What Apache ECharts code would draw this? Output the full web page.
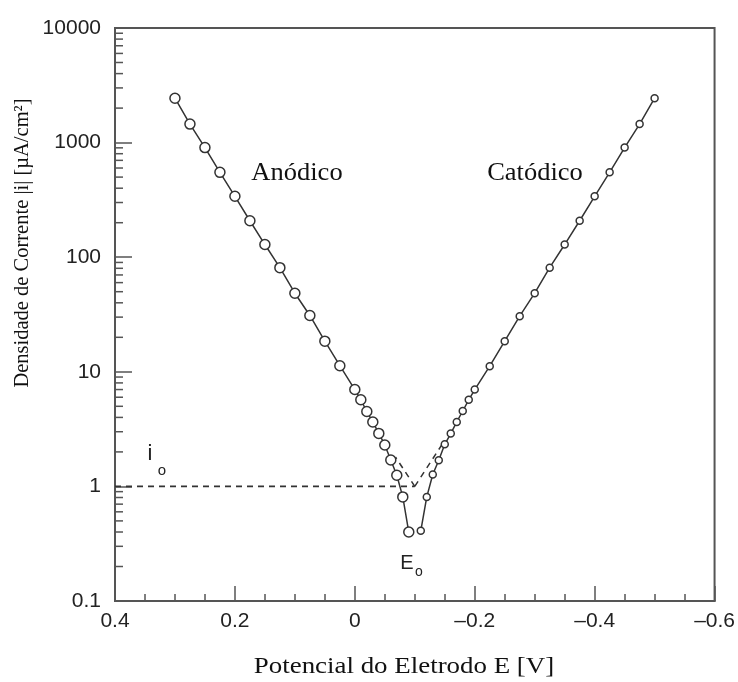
<!DOCTYPE html>
<html>
<head>
<meta charset="utf-8">
<script src="https://cdn.jsdelivr.net/npm/echarts@6/dist/echarts.min.js"></script>
<style>
  html, body { margin: 0; padding: 0; background: #fff; }
  #cn { width: 738px; height: 682px; }
</style>
</head>
<body>
<div id="cn"></div>
<script>
'use strict';

// ramo anódico (círculos grandes)
const potAnodic = [0.3, 0.275, 0.25, 0.225, 0.2, 0.175, 0.15, 0.125, 0.1, 0.075, 0.05, 0.025, 0,
    -0.01, -0.02, -0.03, -0.04, -0.05, -0.06, -0.07, -0.08, -0.09];
const curAnodic = [2440, 1450, 905, 550, 340, 208, 129, 81, 48.5, 31, 18.5, 11.3, 7.0,
    5.7, 4.5, 3.65, 2.9, 2.3, 1.7, 1.25, 0.81, 0.40];

// ramo catódico (círculos pequenos)
const potCathodic = [-0.11, -0.12, -0.13, -0.14, -0.15, -0.16, -0.17, -0.18, -0.19, -0.2,
    -0.225, -0.25, -0.275, -0.3, -0.325, -0.35, -0.375, -0.4, -0.425, -0.45, -0.475, -0.5];
const curCathodic = [0.41, 0.81, 1.27, 1.69, 2.33, 2.89, 3.65, 4.55, 5.7, 7.0,
    11.2, 18.5, 30.6, 48.5, 81, 129, 208, 340, 550, 905, 1450, 2440];

// linhas tracejadas: i0 e extrapolações de Tafel
const potIo = [0.4, -0.1];
const curIo = [1, 1];
const potTafelA = [-0.1, -0.068];
const curTafelA = [1, 1.8];
const potTafelC = [-0.1, -0.145];
const curTafelC = [1, 2.3];

// marcas menores do eixo log
const yMinorTicks = [0.2, 0.3, 0.4, 0.5, 0.6, 0.7, 0.8, 0.9,
    2, 3, 4, 5, 6, 7, 8, 9,
    20, 30, 40, 50, 60, 70, 80, 90,
    200, 300, 400, 500, 600, 700, 800, 900,
    2000, 3000, 4000, 5000, 6000, 7000, 8000, 9000];

const xMin = -0.6;
const xMax = 0.4;

const lineCol = '#333';
const axisCol = '#555';
const sans = 'Liberation Sans, Arial, sans-serif';
const serif = 'Liberation Serif, Times New Roman, serif';

const zip = (a, b) => a.map((v, i) => [v, b[i]]);

const chart = echarts.init(document.getElementById('cn'));

const option = {
    animation: false,
    grid: {
        left: 115,
        top: 28,
        right: 22,
        bottom: 81,
        show: true,
        borderColor: axisCol,
        borderWidth: 2
    },
    xAxis: {
        type: 'value',
        inverse: true,
        min: xMin,
        max: xMax,
        interval: 0.2,
        axisLine: { onZero: false, lineStyle: { color: axisCol, width: 2 } },
        axisTick: { inside: true, length: 15, lineStyle: { color: axisCol, width: 1.5 } },
        minorTick: { show: true, splitNumber: 4, length: 7, lineStyle: { color: axisCol, width: 1.5 } },
        splitLine: { show: false },
        axisLabel: {
            margin: 10,
            fontFamily: sans,
            fontSize: 21,
            color: '#222',
            formatter: v => {
                const r = Number(v.toFixed(2));
                return r < 0 ? '\u2013' + Math.abs(r) : String(r);
            }
        }
    },
    yAxis: {
        type: 'log',
        logBase: 10,
        min: 0.1,
        max: 10000,
        axisLine: { onZero: false, lineStyle: { color: axisCol, width: 2 } },
        axisTick: { inside: true, length: 17, lineStyle: { color: axisCol, width: 1.5 } },
        splitLine: { show: false },
        axisLabel: {
            margin: 14,
            fontFamily: sans,
            fontSize: 21,
            color: '#222',
            formatter: v => String(Number(v.toPrecision(3)))
        }
    },
    graphic: [
        {
            type: 'text', x: 297, y: 173,
            style: { text: 'Anódico', font: '25px ' + serif, fill: '#111', align: 'center', verticalAlign: 'middle' },
            scaleX: 1.06
        },
        {
            type: 'text', x: 535, y: 173,
            style: { text: 'Catódico', font: '25px ' + serif, fill: '#111', align: 'center', verticalAlign: 'middle' },
            scaleX: 1.06
        },
        {
            type: 'text', x: 150, y: 454,
            style: { text: 'i', font: '22px ' + sans, fill: '#222', align: 'center', verticalAlign: 'middle' }
        },
        {
            type: 'text', x: 162, y: 471,
            style: { text: 'o', font: '15px ' + sans, fill: '#222', align: 'center', verticalAlign: 'middle' }
        },
        {
            type: 'text', x: 407, y: 563,
            style: { text: 'E', font: '20px ' + sans, fill: '#222', align: 'center', verticalAlign: 'middle' }
        },
        {
            type: 'text', x: 419, y: 572,
            style: { text: 'o', font: '14px ' + sans, fill: '#222', align: 'center', verticalAlign: 'middle' }
        },
        {
            type: 'text', x: 404, y: 667,
            style: { text: 'Potencial do Eletrodo E [V]', font: '23px ' + serif, fill: '#111', align: 'center', verticalAlign: 'middle' },
            scaleX: 1.17
        },
        {
            type: 'text', x: 23, y: 243, rotation: Math.PI / 2,
            style: { text: 'Densidade de Corrente |i| [µA/cm²]', font: '20.5px ' + serif, fill: '#111', align: 'center', verticalAlign: 'middle' }
        }
    ],
    series: [
        {
            name: 'Anódico',
            type: 'line',
            data: zip(potAnodic, curAnodic),
            symbol: 'circle',
            symbolSize: 10,
            itemStyle: { color: '#fff', borderColor: lineCol, borderWidth: 1.5 },
            lineStyle: { color: lineCol, width: 1.5 },
            z: 3
        },
        {
            name: 'Catódico',
            type: 'line',
            data: zip(potCathodic, curCathodic),
            symbol: 'circle',
            symbolSize: 7,
            itemStyle: { color: '#fff', borderColor: lineCol, borderWidth: 1.5 },
            lineStyle: { color: lineCol, width: 1.5 },
            z: 3
        },
        {
            name: 'io',
            type: 'line',
            data: zip(potIo, curIo),
            showSymbol: false,
            lineStyle: { color: lineCol, width: 1.6, type: [6, 5] },
            z: 2
        },
        {
            name: 'TafelA',
            type: 'line',
            data: zip(potTafelA, curTafelA),
            showSymbol: false,
            lineStyle: { color: lineCol, width: 1.5, type: [6, 5] },
            z: 2
        },
        {
            name: 'TafelC',
            type: 'line',
            data: zip(potTafelC, curTafelC),
            showSymbol: false,
            lineStyle: { color: lineCol, width: 1.5, type: [6, 5] },
            z: 2
        },
        {
            // marcas menores do eixo y (2..9 x 10^n)
            name: 'minorY',
            type: 'custom',
            silent: true,
            clip: false,
            data: yMinorTicks.map(v => [xMax, v]),
            renderItem: (params, api) => {
                const p = api.coord([api.value(0), api.value(1)]);
                return {
                    type: 'line',
                    shape: { x1: p[0], y1: p[1], x2: p[0] + 8, y2: p[1] },
                    style: { stroke: axisCol, lineWidth: 1.5 }
                };
            },
            z: 4
        }
    ]
};

chart.setOption(option);
</script>
</body>
</html>
